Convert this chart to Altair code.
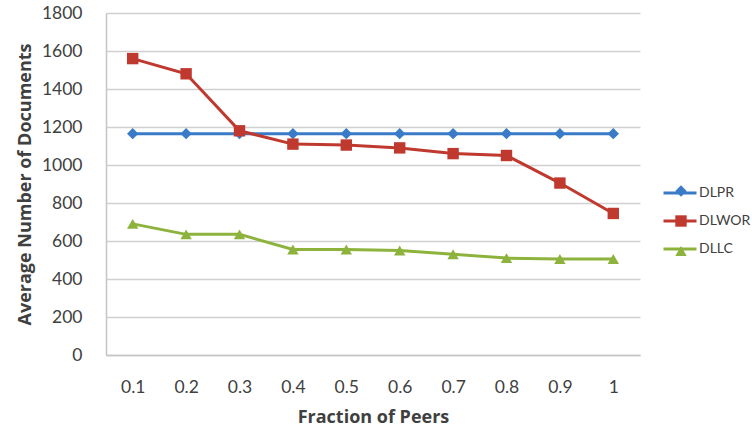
import altair as alt
import pandas as pd

fractions = ["0.1", "0.2", "0.3", "0.4", "0.5", "0.6", "0.7", "0.8", "0.9", "1"]
series_names = ["DLPR", "DLWOR", "DLLC"]
dlpr = [1165, 1165, 1165, 1165, 1165, 1165, 1165, 1165, 1165, 1165]
dlwor = [1560, 1480, 1180, 1110, 1105, 1090, 1060, 1050, 905, 745]
dllc = [690, 635, 635, 555, 555, 550, 530, 510, 505, 505]
y_ticks = [0, 200, 400, 600, 800, 1000, 1200, 1400, 1600, 1800]

colors = ["#3A7BC8", "#C0392F", "#8DB33C"]
shapes = ["diamond", "square", "triangle-up"]

rows = []
for name, vals in zip(series_names, [dlpr, dlwor, dllc]):
    for f, v in zip(fractions, vals):
        rows.append({"fraction": f, "series": name, "marker": name, "value": v})
df = pd.DataFrame(rows)

FONT = "Lato"
TFONT = "Open Sans"
TXT = "#404040"

x = alt.X(
    "fraction:O",
    sort=fractions,
    scale=alt.Scale(type="point", padding=0.5),
    axis=alt.Axis(
        title="Fraction of Peers",
        labelAngle=0,
        ticks=False,
        grid=False,
        domainColor="#c4c4c4",
        domainWidth=1.5,
        labelPadding=23,
        labelFontSize=17.5,
        labelColor=TXT,
        labelFont=FONT,
        titleFont=TFONT,
        titleFontSize=18,
        titleFontWeight="bold",
        titleColor=TXT,
        titlePadding=13,
    ),
)
y = alt.Y(
    "value:Q",
    scale=alt.Scale(domain=[0, 1800]),
    axis=alt.Axis(
        title="Average Number of Documents",
        values=y_ticks,
        format="d",
        ticks=False,
        grid=True,
        gridColor="#d0d0d0",
        gridWidth=1.5,
        domainColor="#c4c4c4",
        domainWidth=1.5,
        labelPadding=24,
        labelFontSize=17.5,
        labelColor=TXT,
        labelFont=FONT,
        titleFont=TFONT,
        titleFontSize=18,
        titleFontWeight="bold",
        titleColor=TXT,
        titlePadding=7,
    ),
)

line_legend = alt.Legend(
    title=None,
    orient="none",
    legendX=556,
    legendY=162,
    padding=0,
    symbolType="stroke",
    symbolSize=1089,
    symbolStrokeWidth=3,
    labelFont=FONT,
    labelFontSize=14,
    labelColor=TXT,
    labelOffset=1,
    rowPadding=3,
)
shape_legend = alt.Legend(
    title=None,
    orient="none",
    legendX=569,
    legendY=172,
    padding=0,
    symbolSize=130,
    symbolStrokeWidth=0,
    labelFont=FONT,
    labelFontSize=1,
    labelOpacity=0,
    labelOffset=0,
    rowPadding=18,
)

lines = alt.Chart(df).mark_line(strokeWidth=3).encode(
    x=x,
    y=y,
    stroke=alt.Stroke(
        "series:N",
        sort=series_names,
        scale=alt.Scale(range=colors),
        legend=line_legend,
    ),
)

points = alt.Chart(df).mark_point(filled=True, opacity=1, size=130).encode(
    x=x,
    y=y,
    color=alt.Color(
        "marker:N",
        scale=alt.Scale(domain=series_names, range=colors),
        legend=shape_legend,
    ),
    shape=alt.Shape(
        "marker:N",
        scale=alt.Scale(domain=series_names, range=shapes),
        legend=shape_legend,
    ),
)

chart = (
    alt.layer(lines, points)
    .properties(
        width=534,
        height=342,
        autosize=alt.AutoSizeParams(type="none"),
        padding={"left": 106, "top": 13, "right": 112, "bottom": 77},
        background="white",
    )
    .configure_view(stroke=None)
)

chart.save("out.html", embed_options={"renderer": "svg", "actions": False})
